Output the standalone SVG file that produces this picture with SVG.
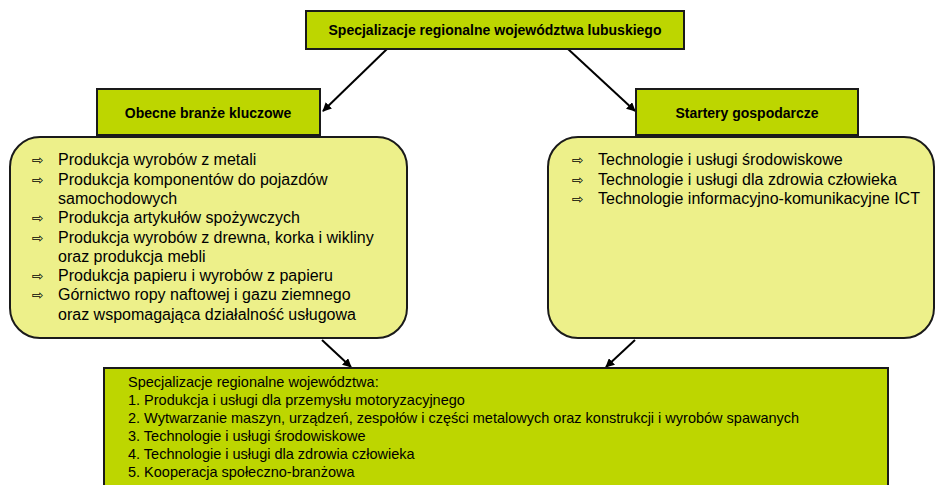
<svg xmlns="http://www.w3.org/2000/svg" width="936" height="485" viewBox="0 0 936 485">
<defs>
<marker id="ah" viewBox="0 0 10 10" refX="9" refY="5" markerWidth="9" markerHeight="9" markerUnits="userSpaceOnUse" orient="auto">
<path d="M0,0 L10,5 L0,10 z" fill="#000"/>
</marker>
<style>
.g{fill:#BDD600;stroke:#1a1a1a;stroke-width:2}
.y{fill:#EDF08A;stroke:#1a1a1a;stroke-width:2}
.t{font-family:"Liberation Sans",Arial,sans-serif;font-size:14px;font-weight:bold;fill:#000;text-anchor:middle}
.l{font-family:"Liberation Sans",Arial,sans-serif;font-size:16px;fill:#000}
.b{font-family:"DejaVu Sans",sans-serif;font-size:14px;fill:#000}
.s{font-family:"Liberation Sans",Arial,sans-serif;font-size:14.5px;fill:#000}
.c{stroke:#000;stroke-width:2;fill:none;marker-end:url(#ah)}
</style>
</defs>
<rect width="936" height="485" fill="#fff"/>
<g id="connectors">
<line class="c" x1="387" y1="49" x2="323" y2="111"/>
<line class="c" x1="568" y1="49" x2="635" y2="111"/>
<line class="c" x1="322" y1="340" x2="351" y2="367"/>
<line class="c" x1="635" y1="340" x2="606" y2="367"/>
</g>
<g id="top">
<rect class="g" x="306" y="11" width="378" height="38"/>
<text class="t" x="495" y="35">Specjalizacje regionalne województwa lubuskiego</text>
</g>
<g id="left-list">
<rect class="y" x="10" y="137" width="397" height="201" rx="30" ry="30"/>
<g class="b"><text x="32" y="165">⇨</text><text x="32" y="185">⇨</text><text x="32" y="223">⇨</text><text x="32" y="243">⇨</text><text x="32" y="281">⇨</text><text x="32" y="300">⇨</text></g>
<text class="l" x="58" y="165">Produkcja wyrobów z metali</text>
<text class="l" x="58" y="185">Produkcja komponentów do pojazdów</text>
<text class="l" x="58" y="204">samochodowych</text>
<text class="l" x="58" y="223">Produkcja artykułów spożywczych</text>
<text class="l" x="58" y="243">Produkcja wyrobów z drewna, korka i wikliny</text>
<text class="l" x="58" y="262">oraz produkcja mebli</text>
<text class="l" x="58" y="281">Produkcja papieru i wyrobów z papieru</text>
<text class="l" x="58" y="300">Górnictwo ropy naftowej i gazu ziemnego</text>
<text class="l" x="58" y="320">oraz wspomagająca działalność usługowa</text>
</g>
<g id="left-header">
<rect class="g" x="97" y="89" width="223" height="46"/>
<text class="t" x="208" y="118">Obecne branże kluczowe</text>
</g>
<g id="right-list">
<rect class="y" x="548" y="137" width="386" height="201" rx="30" ry="30"/>
<g class="b"><text x="572" y="165">⇨</text><text x="572" y="185">⇨</text><text x="572" y="204">⇨</text></g>
<text class="l" x="598" y="165">Technologie i usługi środowiskowe</text>
<text class="l" x="598" y="185">Technologie i usługi dla zdrowia człowieka</text>
<text class="l" x="598" y="204">Technologie informacyjno-komunikacyjne ICT</text>
</g>
<g id="right-header">
<rect class="g" x="636" y="89" width="222" height="46"/>
<text class="t" x="747" y="118">Startery gospodarcze</text>
</g>
<g id="bottom">
<rect class="g" x="104" y="368" width="784" height="125"/>
<text class="s" x="128" y="387">Specjalizacje regionalne województwa:</text>
<text class="s" x="128" y="405">1. Produkcja i usługi dla przemysłu motoryzacyjnego</text>
<text class="s" x="128" y="423">2. Wytwarzanie maszyn, urządzeń, zespołów i części metalowych oraz konstrukcji i wyrobów spawanych</text>
<text class="s" x="128" y="441">3. Technologie i usługi środowiskowe</text>
<text class="s" x="128" y="459">4. Technologie i usługi dla zdrowia człowieka</text>
<text class="s" x="128" y="477">5. Kooperacja społeczno-branżowa</text>
</g>
</svg>
